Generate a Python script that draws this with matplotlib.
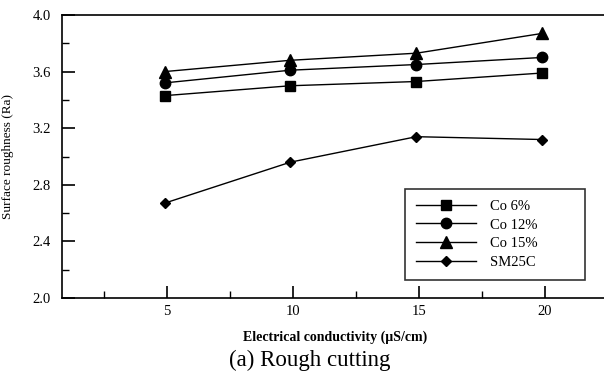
import numpy as np
import matplotlib
matplotlib.use('Agg')
import matplotlib.pyplot as plt
from matplotlib.ticker import MultipleLocator

# values
conductivity = [4.9, 9.9, 14.9, 19.9]
co6 = [3.43, 3.50, 3.53, 3.59]
co12 = [3.52, 3.61, 3.65, 3.70]
co15 = [3.60, 3.68, 3.73, 3.87]
sm25c = [2.67, 2.96, 3.14, 3.12]
series_names = ['Co 6%', 'Co 12%', 'Co 15%', 'SM25C']
x_ticks = [5, 10, 15, 20]
y_ticks = [2.0, 2.4, 2.8, 3.2, 3.6, 4.0]

plt.rcParams['font.family'] = ['Liberation Serif', 'DejaVu Serif']

fig = plt.figure(figsize=(6.04, 3.76), dpi=100)
ax = fig.add_axes([62 / 604, 1 - 298 / 376, (604 - 62) / 604, (298 - 15) / 376])

markers = ['s', 'o', '^', 'D']
sizes = [7, 7.5, 8, 5.5]
for ys, name, m, ms in zip([co6, co12, co15, sm25c], series_names, markers, sizes):
    ax.plot(conductivity, ys, color='black', lw=1.0, marker=m, ms=ms, label=name)

ax.set_xlim(0.83, 22.35)
ax.set_ylim(2.0, 4.0)
ax.set_xticks(x_ticks)
ax.set_yticks(y_ticks)
ax.set_yticklabels(['%.1f' % v for v in y_ticks])
ax.xaxis.set_minor_locator(MultipleLocator(2.5))
ax.yaxis.set_minor_locator(MultipleLocator(0.2))
ax.tick_params(which='major', direction='in', length=9, width=1.2, labelsize=10.5)
ax.tick_params(axis='y', which='major', pad=8)
ax.tick_params(axis='x', which='major', pad=5)
ax.tick_params(which='minor', direction='in', length=5, width=1.0)
ax.spines['right'].set_visible(False)
for s in ['left', 'bottom', 'top']:
    ax.spines[s].set_linewidth(1.2)

ax.set_ylabel('Surface roughness (Ra)', fontsize=9.5, labelpad=13)
fig.text(335 / 604, 1 - 337 / 376, 'Electrical conductivity (\u00b5S/cm)', fontsize=10,
         fontweight='bold', ha='center', va='center')
fig.text(310 / 604, 1 - 360 / 376, '(a) Rough cutting', fontsize=16.5, ha='center', va='center')

leg = ax.legend(loc='lower left', bbox_to_anchor=(343 / 542, 18 / 283, 180 / 542, 91 / 283),
                mode='expand', fontsize=10.5, frameon=True,
                fancybox=False, edgecolor='black', handlelength=4.1, labelspacing=0.38,
                borderpad=0.75, handletextpad=1.0, borderaxespad=0)
leg.get_frame().set_linewidth(1.2)

fig.savefig('out.png', dpi=100)
